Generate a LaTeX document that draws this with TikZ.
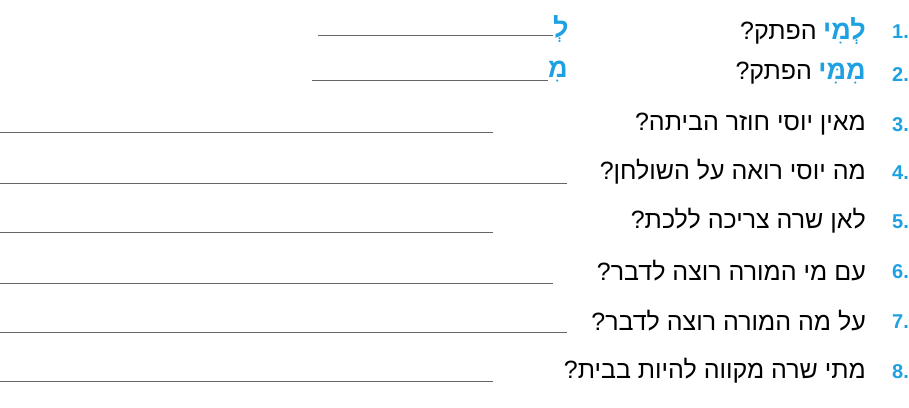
\documentclass[tikz,border=0pt]{standalone}
\usepackage{fontspec}
\TeXXeTstate=1
\newfontfamily\heb[Script=Hebrew]{Liberation Sans}
\setmainfont{Liberation Sans}
\definecolor{qblue}{HTML}{1DA1E2}
\begin{document}
\begin{tikzpicture}[x=1pt,y=-1pt,
  num/.style={anchor=east,font=\bfseries\fontsize{20}{22}\selectfont,text=qblue,inner sep=0},
  q/.style={anchor=east,font=\heb\fontsize{25}{30}\selectfont,inner sep=0},
  qb/.style={anchor=east,font=\heb\bfseries\fontsize{27}{30}\selectfont,text=qblue,inner sep=0},
  ans/.style={draw=black!60,line width=0.8pt}]
\useasboundingbox (0,0) rectangle (909,407);
\foreach \n/\y in {1/32,2/75,3/125,4/173,5/222,6/272,7/322,8/372}{
  \node[num] (n\n) at (909,\y) {\n.};
}
\node[qb] (w1) at (866,31) {\beginR לְמִי\endR};
\node[q,anchor=base east] (q1) at ([xshift=-6pt]w1.base west) {\beginR הפתק?\endR};
\node[qb] (w2) at (866,74) {\beginR מִמִּי\endR};
\node[q,anchor=base east] (q2) at ([xshift=-6pt]w2.base west) {\beginR הפתק?\endR};
\node[q] (q3) at (866,124) {\beginR מאין יוסי חוזר הביתה?\endR};
\node[q] (q4) at (866,172) {\beginR מה יוסי רואה על השולחן?\endR};
\node[q] (q5) at (866,221) {\beginR לאן שרה צריכה ללכת?\endR};
\node[q] (q6) at (866,271) {\beginR עם מי המורה רוצה לדבר?\endR};
\node[q] (q7) at (866,321) {\beginR על מה המורה רוצה לדבר?\endR};
\node[q] (q8) at (866,371) {\beginR מתי שרה מקווה להיות בבית?\endR};
\node[qb,anchor=west] (s1) at (553,29) {\beginR לְ\endR};
\node[qb,anchor=west] (s2) at (548,72) {\beginR מִ\endR};
\coordinate (a1) at (318,35); \coordinate (b1) at (553,35);
\coordinate (a2) at (312,80); \coordinate (b2) at (548,80);
\draw[ans] (a1) -- (b1);
\draw[ans] (a2) -- (b2);
\foreach \y/\x in {132/493,183/567,232/493,283/553,332/567,381/493}{
  \draw[ans] (0,\y) -- (\x,\y);
}
\end{tikzpicture}
\end{document}
